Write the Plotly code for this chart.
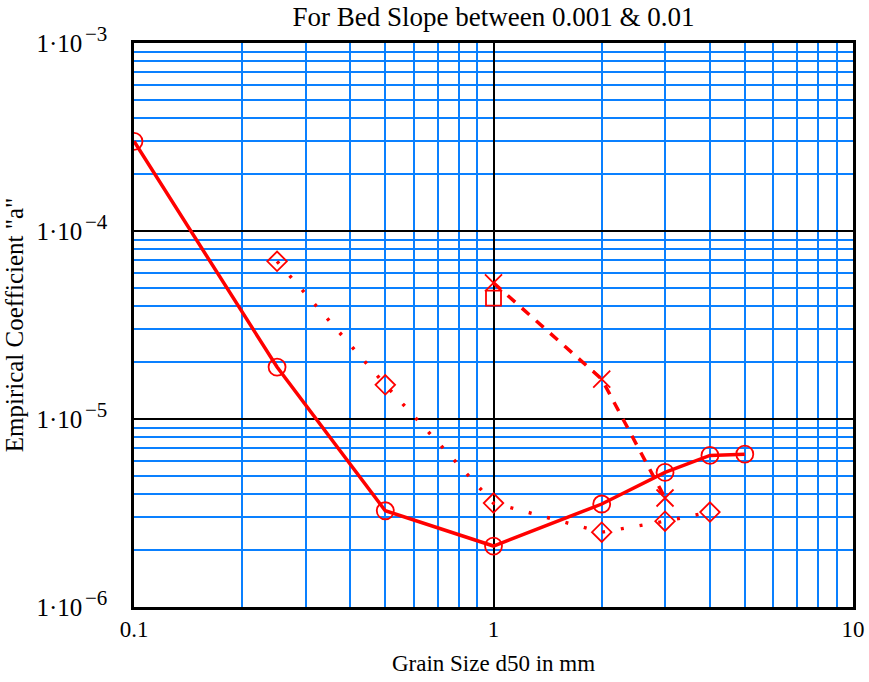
import plotly.graph_objects as go

# Data
d50_a = [0.1, 0.25, 0.5, 1, 2, 3, 4, 5]
coef_a = [3.0e-4, 1.89e-5, 3.25e-6, 2.11e-6, 3.53e-6, 5.2e-6, 6.4e-6, 6.5e-6]

d50_b = [0.25, 0.5, 1, 2, 3, 4]
coef_b = [6.9e-5, 1.52e-5, 3.57e-6, 2.5e-6, 2.86e-6, 3.2e-6]

d50_c = [1, 2, 3]
coef_c = [5.3e-5, 1.63e-5, 3.8e-6]

d50_d = [1]
coef_d = [4.4e-5]

x_ticks = [0.1, 1, 10]
x_ticklabels = ["0.1", "1", "10"]
y_ticks = [1e-6, 1e-5, 1e-4, 1e-3]
y_exps = [-6, -5, -4, -3]
y_ticklabels = ["1·10"] * len(y_ticks)

x_minor = [m * 10 ** e for e in (-1, 0) for m in range(2, 10)]
y_minor = [m * 10 ** e for e in (-6, -5, -4) for m in range(2, 10)]

RED = "#ff0000"
BLUE = "#0a80ff"

fig = go.Figure()
fig.add_trace(go.Scatter(x=d50_a, y=coef_a, mode="lines+markers",
                         line=dict(color=RED, width=3.5),
                         marker=dict(symbol="circle-open", size=17, color=RED, line=dict(width=1.8))))
fig.add_trace(go.Scatter(x=d50_b, y=coef_b, mode="lines+markers",
                         line=dict(color=RED, width=3.5, dash="3px,16px"),
                         marker=dict(symbol="diamond-open", size=15, color=RED, line=dict(width=1.8))))
fig.add_trace(go.Scatter(x=d50_c, y=coef_c, mode="lines+markers",
                         line=dict(color=RED, width=3.5, dash="10px,9px"),
                         marker=dict(symbol="x-thin-open", size=17, color=RED, line=dict(width=1.8))))
fig.add_trace(go.Scatter(x=d50_d, y=coef_d, mode="markers",
                         marker=dict(symbol="square-open", size=15, color=RED, line=dict(width=1.8))))

axis_common = dict(showline=True, linecolor="black", linewidth=2.5, mirror=True, automargin=False,
                   ticks="", showgrid=True, gridcolor="black", gridwidth=1.8, zeroline=False)

fig.update_xaxes(type="log", range=[-1, 1], tickvals=x_ticks, ticktext=x_ticklabels,
                 tickfont=dict(size=23, color="black"),
                 title=dict(text="Grain Size d50 in mm", font=dict(size=23, color="black"), standoff=14),
                 minor=dict(tickvals=x_minor, showgrid=True, gridcolor=BLUE, gridwidth=2, ticks=""),
                 **axis_common)
fig.update_yaxes(type="log", range=[-6, -3], tickvals=y_ticks, ticktext=y_ticklabels,
                 tickfont=dict(size=25, color="black"),
                 title=dict(text='Empirical Coefficient "a"', font=dict(size=25, color="black"), standoff=6),
                 minor=dict(tickvals=y_minor, showgrid=True, gridcolor=BLUE, gridwidth=2, ticks=""),
                 ticklabelstandoff=44,
                 **axis_common)

# exponents of the y tick labels
for e in y_exps:
    fig.add_annotation(text="−%d" % (-e), xref="paper", x=-0.071, xanchor="left",
                       yref="y", y=e, yanchor="middle", yshift=9, showarrow=False,
                       font=dict(size=21, color="black", family="Liberation Serif"))

fig.update_layout(
    width=869, height=682,
    margin=dict(l=134, r=16, t=43, b=75),
    paper_bgcolor="white", plot_bgcolor="white",
    font=dict(family="Liberation Serif", color="black"),
    showlegend=False,
    title=dict(text="For Bed Slope between 0.001 & 0.01", x=0.5, xref="paper",
               y=0.99, yanchor="top", font=dict(size=27, color="black")),
)

fig.write_html("out.html")
